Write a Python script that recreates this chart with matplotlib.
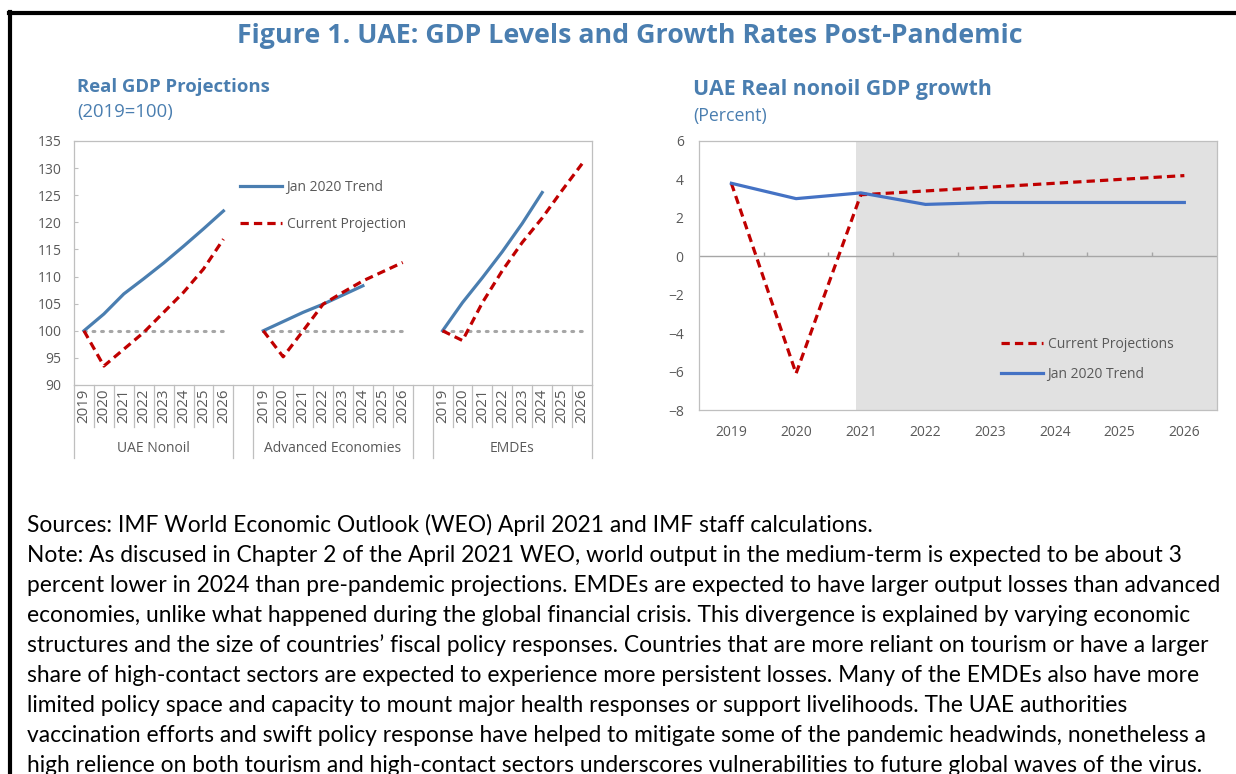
import matplotlib
matplotlib.use("Agg")
import matplotlib.pyplot as plt
from matplotlib.lines import Line2D
import matplotlib.transforms as mtransforms

# ---- data ----
years = ['2019', '2020', '2021', '2022', '2023', '2024', '2025', '2026']
groups = ['UAE Nonoil', 'Advanced Economies', 'EMDEs']

uae_trend = [100, 103.1, 106.8, 109.6, 112.5, 115.6, 118.8, 122.1]
uae_current = [100, 93.5, 96.6, 99.7, 103.4, 107.1, 111.4, 116.9]
ae_trend = [100, 101.7, 103.4, 104.9, 106.6, 108.3]
ae_current = [100, 95.2, 100.0, 104.9, 107.1, 109.2, 110.9, 112.6]
emde_trend = [100, 105.2, 109.8, 114.6, 119.8, 125.5]
emde_current = [100, 98.2, 105.2, 111.1, 116.3, 120.8, 125.9, 130.8]
base_level = 100

growth_trend = [3.8, 3.0, 3.3, 2.7, 2.8, 2.8, 2.8, 2.8]
growth_current = [3.8, -6.1, 3.2, 3.4, 3.6, 3.8, 4.0, 4.2]
proj_start = '2021'

notes = [
    "Sources: IMF World Economic Outlook (WEO) April 2021 and IMF staff calculations.",
    "Note: As discused in Chapter 2 of the April 2021 WEO, world output in the medium-term is expected to be about 3",
    "percent lower in 2024 than pre-pandemic projections. EMDEs are expected to have larger output losses than advanced",
    "economies, unlike what happened during the global financial crisis. This divergence is explained by varying economic",
    "structures and the size of countries\u2019 fiscal policy responses. Countries that are more reliant on tourism or have a larger",
    "share of high-contact sectors are expected to experience more persistent losses. Many of the EMDEs also have more",
    "limited policy space and capacity to mount major health responses or support livelihoods. The UAE authorities",
    "vaccination efforts and swift policy response have helped to mitigate some of the pandemic headwinds, nonetheless a",
    "high relience on both tourism and high-contact sectors underscores vulnerabilities to future global waves of the virus.",
]

# ---- style ----
W, H = 1236, 774
BLUE_T = '#4A7EB0'
BLUE_L = '#4A7EB0'
BLUE_R = '#4472C4'
RED = '#C00000'
GRID = '#BFBFBF'
TXT = '#595959'
plt.rcParams['font.family'] = ['Open Sans', 'DejaVu Sans']

fig = plt.figure(figsize=(W / 100, H / 100), dpi=100)


def fx(px):
    return px / W


def fy(py):
    return 1 - py / H


# frame lines (top and left)
fig.add_artist(Line2D([fx(9), 1], [fy(13), fy(13)], color='black', lw=3))
fig.add_artist(Line2D([fx(10), fx(10)], [fy(12), 0], color='black', lw=3))

fig.text(fx(630), fy(36), 'Figure 1. UAE: GDP Levels and Growth Rates Post-Pandemic',
         ha='center', va='center', fontsize=19.3, fontweight='bold', color=BLUE_T)

fig.text(fx(77), fy(87), 'Real GDP Projections', ha='left', va='center',
         fontsize=13.3, fontweight='bold', color=BLUE_T)
fig.text(fx(77), fy(112), '(2019=100)', ha='left', va='center',
         fontsize=13.3, color=BLUE_T)
fig.text(fx(693), fy(89), 'UAE Real nonoil GDP growth', ha='left', va='center',
         fontsize=15.4, fontweight='bold', color=BLUE_T)
fig.text(fx(693), fy(116), '(Percent)', ha='left', va='center',
         fontsize=12.7, color=BLUE_T)

# ---- left panel ----
ax1 = fig.add_axes([fx(74), fy(385), fx(592) - fx(74), fy(141) - fy(385)])
n_y = len(years)
offsets = [0, n_y + 1, 2 * (n_y + 1)]
ncat = 3 * n_y + 2
series = [(uae_trend, uae_current), (ae_trend, ae_current), (emde_trend, emde_current)]
dash = (0, (2.6, 1.6))
for off, (tr, cu) in zip(offsets, series):
    xs = [off + i for i in range(n_y)]
    ax1.plot(xs, [base_level] * n_y, color='#A6A6A6', lw=2.2, ls=(0, (0.6, 2.2)),
             dash_capstyle='round', zorder=1)
    ax1.plot(xs[:len(tr)], tr, color=BLUE_L, lw=2.3, zorder=3,
             label='Jan 2020 Trend' if off == 0 else None)
    ax1.plot(xs[:len(cu)], cu, color=RED, lw=2.3, ls=dash, zorder=3,
             label='Current Projection' if off == 0 else None)

ax1.set_xlim(-0.5, ncat - 0.5)
ax1.set_ylim(90, 135)
ax1.set_yticks(range(90, 136, 5))
ax1.set_xticks([])
ax1.tick_params(axis='y', direction='in', length=3, width=0.8, color=GRID,
                labelsize=10, labelcolor=TXT, pad=9)
for s in ax1.spines.values():
    s.set_color(GRID)
    s.set_linewidth(0.9)

trans = mtransforms.blended_transform_factory(ax1.transData, ax1.transAxes)
long_y = -73 / 244
short_y = -42 / 244
for off, g in zip(offsets, groups):
    for b in [off - 0.5, off + n_y - 0.5]:
        ax1.plot([b, b], [0, long_y], transform=trans, color=GRID, lw=0.9, clip_on=False)
    for i in range(1, n_y):
        b = off + i - 0.5
        ax1.plot([b, b], [0, short_y], transform=trans, color=GRID, lw=0.9, clip_on=False)
    for i, yr in enumerate(years):
        ax1.text(off + i, -4 / 244, yr, transform=trans, rotation=90, ha='center', va='top',
                 fontsize=10.8, color=TXT)
    ax1.text(off + (n_y - 1) / 2, -64 / 244, g, transform=trans, ha='center', va='center',
             fontsize=10, color=TXT)

ax1.legend(loc='upper left', bbox_to_anchor=((240 - 74) / 518, (385 - 180) / 244),
           frameon=False, fontsize=10, handlelength=3.0, handletextpad=0.35,
           labelspacing=1.6, borderpad=0, borderaxespad=0, labelcolor=TXT)

# ---- right panel ----
ax2 = fig.add_axes([fx(699), fy(410), fx(1216.7) - fx(699), fy(141) - fy(410)])
xr = list(range(len(years)))
p0 = years.index(proj_start)
ax2.axvspan(p0 - 0.07, len(years) - 0.5, color='#E1E1E1', lw=0, zorder=0)
ax2.axhline(0, color='#A6A6A6', lw=1, zorder=1)
ax2.vlines([i + 0.5 for i in range(len(years) - 1)], 0, 0.22, color='#A6A6A6', lw=1, zorder=1)
ax2.plot(xr, growth_current, color=RED, lw=2.3, ls=dash, zorder=3, label='Current Projections')
ax2.plot(xr, growth_trend, color=BLUE_R, lw=2.3, zorder=3, label='Jan 2020 Trend')
ax2.set_xlim(-0.5, len(years) - 0.5)
ax2.set_ylim(-8, 6)
ax2.set_yticks(range(-8, 7, 2))
ax2.set_xticks(xr)
ax2.set_xticklabels(years)
ax2.tick_params(axis='both', length=0, labelsize=10, labelcolor=TXT)
ax2.tick_params(axis='x', pad=11)
ax2.tick_params(axis='y', pad=11)
for s in ax2.spines.values():
    s.set_color(GRID)
    s.set_linewidth(0.9)
ax2.legend(loc='upper left', bbox_to_anchor=((1001 - 699) / 517.7, (410 - 337) / 269),
           frameon=False, fontsize=10, handlelength=3.0, handletextpad=0.35,
           labelspacing=1.1, borderpad=0, borderaxespad=0, labelcolor=TXT)

# ---- notes ----
for k, line in enumerate(notes):
    fig.text(fx(27), fy(525 + k * 30.1), line, ha='left', va='center',
             fontsize=16.4, family=['Lato', 'DejaVu Sans'], color='black')

fig.savefig('out.png', dpi=100)
